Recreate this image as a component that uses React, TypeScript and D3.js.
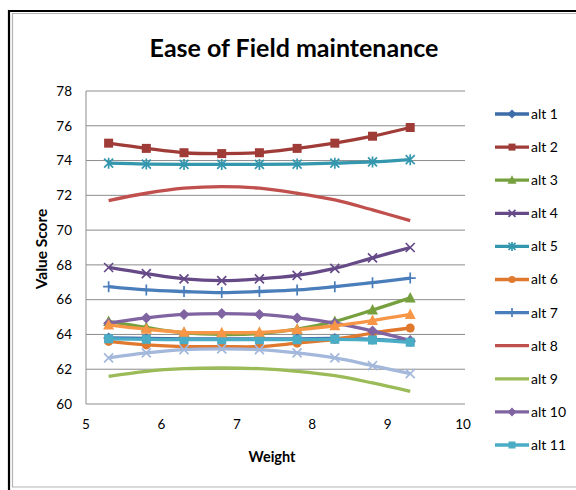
import * as d3 from 'd3'

const WIDTH = 576
const HEIGHT = 490
const FONT = 'Lato, "Open Sans", sans-serif'

// plot area, in px
const PLOT_LEFT = 86
const PLOT_RIGHT = 463
const PLOT_TOP = 91
const PLOT_BOTTOM = 404

const WEIGHTS = [5.3, 5.8, 6.3, 6.8, 7.3, 7.8, 8.3, 8.8, 9.3]
const X_TICKS = [5, 6, 7, 8, 9, 10]
const Y_TICKS = [60, 62, 64, 66, 68, 70, 72, 74, 76, 78]

const ALT1 = [63.8, 63.77, 63.75, 63.75, 63.75, 63.75, 63.77, 63.72, 63.6]
const ALT2 = [75.0, 74.7, 74.45, 74.4, 74.45, 74.7, 75.0, 75.4, 75.9]
const ALT3 = [64.75, 64.4, 64.1, 64.0, 64.05, 64.3, 64.75, 65.4, 66.1]
const ALT4 = [67.85, 67.5, 67.2, 67.1, 67.2, 67.4, 67.8, 68.4, 69.0]
const ALT5 = [73.85, 73.8, 73.78, 73.78, 73.78, 73.8, 73.85, 73.92, 74.05]
const ALT6 = [63.6, 63.4, 63.3, 63.3, 63.3, 63.5, 63.72, 64.08, 64.37]
const ALT7 = [66.75, 66.56, 66.47, 66.41, 66.47, 66.56, 66.75, 66.98, 67.24]
const ALT8 = [71.7, 72.12, 72.41, 72.5, 72.41, 72.12, 71.74, 71.16, 70.55]
const ALT9 = [61.59, 61.88, 62.03, 62.07, 62.03, 61.88, 61.63, 61.21, 60.73]
const ALT10 = [64.65, 64.95, 65.15, 65.2, 65.15, 64.95, 64.65, 64.2, 63.65]
const ALT11 = [63.75, 63.72, 63.7, 63.7, 63.7, 63.7, 63.72, 63.68, 63.55]
const ALT12 = [64.55, 64.3, 64.12, 64.1, 64.12, 64.28, 64.5, 64.8, 65.15]
const ALT13 = [62.65, 62.94, 63.13, 63.17, 63.13, 62.94, 62.65, 62.21, 61.75]

type Marker = 'diamond' | 'square' | 'triangle' | 'x' | 'star' | 'circle' | 'plus' | 'none'

interface Series {
  name: string
  color: string
  marker: Marker
  values: number[]
}

const SERIES: Series[] = [
  { name: 'alt 1', color: '#3c6da8', marker: 'diamond', values: ALT1 },
  { name: 'alt 2', color: '#a03c38', marker: 'square', values: ALT2 },
  { name: 'alt 3', color: '#76a03e', marker: 'triangle', values: ALT3 },
  { name: 'alt 4', color: '#664a88', marker: 'x', values: ALT4 },
  { name: 'alt 5', color: '#3497ae', marker: 'star', values: ALT5 },
  { name: 'alt 6', color: '#e0782e', marker: 'circle', values: ALT6 },
  { name: 'alt 7', color: '#4a7ebb', marker: 'plus', values: ALT7 },
  { name: 'alt 8', color: '#c0504d', marker: 'none', values: ALT8 },
  { name: 'alt 9', color: '#9bbb59', marker: 'none', values: ALT9 },
  { name: 'alt 10', color: '#8064a2', marker: 'diamond', values: ALT10 },
  { name: 'alt 11', color: '#4bacc6', marker: 'square', values: ALT11 },
  { name: 'alt 12', color: '#f79646', marker: 'triangle', values: ALT12 },
  { name: 'alt 13', color: '#a3b8db', marker: 'x', values: ALT13 },
]

// the legend box is cut off after the 11th entry
const LEGEND_SHOWN = 11

function MarkerShape({ type, x, y, color, size }: { type: Marker; x: number; y: number; color: string; size: number }) {
  const h = size / 2
  switch (type) {
    case 'diamond':
      return <path d={`M${x},${y - h - 1}L${x + h + 1},${y}L${x},${y + h + 1}L${x - h - 1},${y}Z`} fill={color} />
    case 'square':
      return <rect x={x - h} y={y - h} width={size} height={size} fill={color} />
    case 'triangle':
      return <path d={`M${x},${y - h - 1.5}L${x + h + 1},${y + h}L${x - h - 1},${y + h}Z`} fill={color} />
    case 'circle':
      return <circle cx={x} cy={y} r={h} fill={color} />
    case 'x':
      return (
        <path d={`M${x - h},${y - h}L${x + h},${y + h}M${x - h},${y + h}L${x + h},${y - h}`}
          stroke={color} strokeWidth={1.7} fill="none" />
      )
    case 'star':
      return (
        <path d={`M${x - h},${y - h}L${x + h},${y + h}M${x - h},${y + h}L${x + h},${y - h}M${x},${y - h - 1}L${x},${y + h + 1}`}
          stroke={color} strokeWidth={1.7} fill="none" />
      )
    case 'plus':
      return (
        <path d={`M${x},${y - h - 1}L${x},${y + h + 1}M${x - h - 1},${y}L${x + h + 1},${y}`}
          stroke={color} strokeWidth={1.7} fill="none" />
      )
    default:
      return null
  }
}

export default function App() {
  const x = d3.scaleLinear().domain([5, 10]).range([PLOT_LEFT, PLOT_RIGHT])
  const y = d3.scaleLinear().domain([60, 78]).range([PLOT_BOTTOM, PLOT_TOP])

  const line = d3.line<number>()
    .x((_, i) => x(WEIGHTS[i]))
    .y(d => y(d))
    .curve(d3.curveCatmullRom)

  const legendY = d3.scaleLinear().domain([0, 10]).range([114, 445])

  return (
    <svg width={WIDTH} height={HEIGHT} style={{ position: 'absolute', left: 0, top: 0, background: '#fff' }}
      fontFamily={FONT}>
      {/* outer frame */}
      <path d={`M9,${HEIGHT}V11H${WIDTH}`} stroke="#000" strokeWidth={2.2} fill="none" />
      <path d={`M12.5,487V13.5H${WIDTH}`} stroke="#b4b4b4" strokeWidth={1.2} fill="none" />
      <line x1={12} x2={WIDTH} y1={487} y2={487} stroke="#b4b4b4" strokeWidth={1.2} />

      <text x={294} y={57} textAnchor="middle" fontSize={25} fontWeight={700} fill="#000">
        Ease of Field maintenance
      </text>

      {/* gridlines */}
      {Y_TICKS.map(t => (
        <line key={t} x1={PLOT_LEFT} x2={PLOT_RIGHT + 2} y1={y(t)} y2={y(t)} stroke="#8c8c8c" strokeWidth={1} />
      ))}
      <line x1={PLOT_LEFT} x2={PLOT_LEFT} y1={PLOT_TOP} y2={PLOT_BOTTOM} stroke="#8c8c8c" strokeWidth={1} />

      {Y_TICKS.map(t => (
        <text key={t} x={72} y={y(t)} dy="0.35em" textAnchor="end" fontSize={13.5} fill="#000">{t}</text>
      ))}
      {X_TICKS.map(t => (
        <text key={t} x={x(t)} y={429} textAnchor="middle" fontSize={13.5} fill="#000">{t}</text>
      ))}

      <text x={272} y={462} textAnchor="middle" fontSize={14.5} fontWeight={700}>Weight</text>
      <text transform={`translate(47,249) rotate(-90)`} textAnchor="middle" fontSize={15.5} fontWeight={700}>
        Value Score
      </text>

      {/* series */}
      {SERIES.map(s => (
        <g key={s.name}>
          <path d={line(s.values) ?? ''} fill="none" stroke={s.color} strokeWidth={3.3} strokeLinejoin="round" />
          {s.values.map((v, i) => (
            <MarkerShape key={i} type={s.marker} x={x(WEIGHTS[i])} y={y(v)} color={s.color} size={9} />
          ))}
        </g>
      ))}

      {/* legend */}
      {SERIES.slice(0, LEGEND_SHOWN).map((s, i) => {
        const ly = legendY(i)
        return (
          <g key={s.name}>
            <line x1={495} x2={529} y1={ly} y2={ly} stroke={s.color} strokeWidth={3.3} />
            <MarkerShape type={s.marker} x={512} y={ly} color={s.color} size={7} />
            <text x={531} y={ly} dy="0.35em" fontSize={14} fill="#000">{s.name}</text>
          </g>
        )
      })}
    </svg>
  )
}
